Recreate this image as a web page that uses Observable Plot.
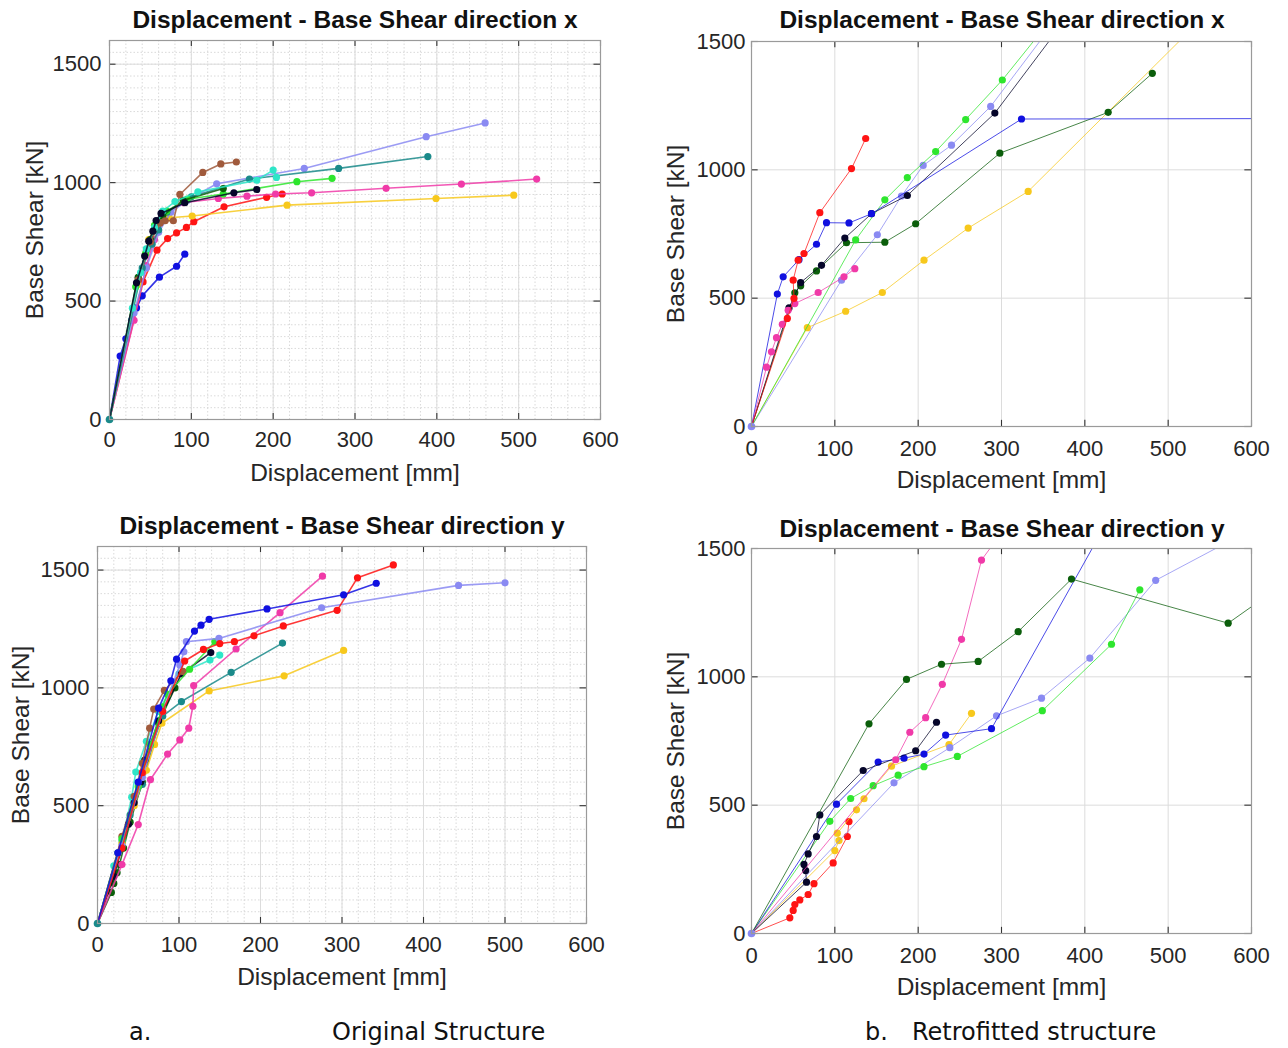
<!DOCTYPE html>
<html>
<head>
<meta charset="utf-8">
<script src="https://cdn.jsdelivr.net/npm/d3@7"></script>
<script src="https://cdn.jsdelivr.net/npm/@observablehq/plot@0.6"></script>
<style>
  html, body { margin: 0; padding: 0; background: #fff; }
  #root { position: relative; width: 1288px; height: 1048px; overflow: hidden; font-family: "Liberation Sans", Arial, sans-serif; }
  .panel { position: absolute; }
  .title { position: absolute; font-weight: bold; font-size: 24.5px; color: #111; white-space: nowrap; transform: translateX(-50%); }
  .cap { position: absolute; font-family: "DejaVu Sans", Verdana, sans-serif; font-size: 24px; color: #111; white-space: nowrap; }
</style>
</head>
<body>
<div id="root"></div>
<script>
// ---------- tick labels ----------
const xTicks = [0, 100, 200, 300, 400, 500, 600];
const yTicks = [0, 500, 1000, 1500];
const xMinor = d3.range(0, 601, 20);
const yMinor = d3.range(0, 1601, 50);

// ---------- colours ----------
const colors = {
  red: "#ff1414", blue: "#1010e0", black: "#06062a", dgreen: "#0b5e0b",
  green: "#2ee62e", magenta: "#f03aa8", lavender: "#8a8af2", yellow: "#f7c81c",
  teal: "#1a8a8a", cyan: "#2ee6c8", brown: "#a05a3c"
};

// ---------- (a) original, direction x : [displacement mm, base shear kN] ----------
const aX_blue = [[0,0],[13,268],[20,341],[27,419],[33,471],[40,522],[61,601],[82,647],[92,698]];
const aX_red = [[0,0],[41,581],[58,715],[71,764],[82,788],[94,811],[103,835],[140,898],[192,938],[211,952]];
const aX_magenta = [[0,0],[30,419],[45,650],[55,760],[70,870],[90,915],[133,933],[168,943],[203,952],[247,957],[338,976],[430,994],[522,1015]];
const aX_yellow = [[0,0],[35,570],[48,760],[58,830],[73,852],[101,859],[217,905],[399,933],[494,947]];
const aX_lavender = [[0,0],[30,450],[45,640],[60,790],[75,875],[95,925],[131,995],[238,1060],[387,1194],[459,1252]];
const aX_teal = [[0,0],[40,640],[52,740],[60,800],[70,875],[100,940],[171,1015],[280,1060],[389,1110]];
const aX_green = [[0,0],[32,560],[44,700],[55,820],[70,880],[95,930],[139,952],[229,1004],[272,1018]];
const aX_dgreen = [[0,0],[35,600],[50,760],[65,860],[90,925],[139,975]];
const aX_brown = [[0,0],[35,590],[50,750],[62,830],[68,839],[78,839],[86,950],[114,1043],[136,1079],[155,1087]];
const aX_cyan = [[0,0],[28,470],[38,620],[45,720],[55,810],[65,880],[80,920],[108,961],[180,1010],[200,1053],[204,1022]];
const aX_black = [[0,0],[33,577],[43,690],[48,753],[53,795],[57,840],[63,870],[92,915],[152,957],[180,971]];

// ---------- (a) original, direction y ----------
const aY_dgreen = [[0,0],[17,132],[20,170],[24,215],[27,250],[32,320],[40,430],[55,600],[75,850],[95,1000]];
const aY_cyan = [[0,0],[20,245],[30,350],[42,536],[47,643],[60,773],[75,900],[100,1060],[138,1118],[150,1139]];
const aY_teal = [[0,0],[25,300],[40,460],[55,590],[67,759],[80,880],[103,942],[164,1066],[227,1190]];
const aY_yellow = [[0,0],[30,340],[45,500],[60,650],[70,760],[79,850],[137,987],[229,1051],[302,1159]];
const aY_black = [[0,0],[20,200],[38,421],[45,512],[53,601],[58,693],[75,860],[103,1060],[139,1150]];
const aY_brown = [[0,0],[30,370],[45,540],[55,680],[64,829],[69,910],[82,989],[105,1070]];
const aY_green = [[0,0],[30,360],[50,580],[65,760],[80,920],[86,973],[113,1079],[144,1196]];
const aY_magenta = [[0,0],[30,250],[50,420],[65,611],[86,719],[101,779],[112,829],[117,922],[118,1010],[170,1165],[224,1319],[276,1474]];
const aY_lavender = [[0,0],[30,330],[55,620],[80,900],[101,1097],[106,1153],[109,1196],[149,1210],[275,1340],[443,1435],[500,1446]];
const aY_red = [[0,0],[30,320],[55,640],[80,900],[107,1114],[130,1163],[150,1188],[168,1196],[192,1221],[228,1263],[294,1329],[319,1467],[363,1522]];
const aY_blue = [[0,0],[25,300],[50,600],[75,914],[90,1030],[97,1122],[119,1241],[127,1266],[137,1291],[208,1335],[302,1395],[342,1444]];

// ---------- (b) retrofitted, direction x ----------
const bX_yellow = [[0,0],[67,385],[113,449],[157,522],[207,648],[260,773],[332,916],[544,1600]];
const bX_dgreen = [[0,0],[52,521],[59,548],[78,606],[114,716],[160,718],[197,790],[298,1065],[428,1224],[481,1376]];
const bX_lavender = [[0,0],[108,570],[151,747],[180,898],[206,1017],[240,1096],[287,1247],[369,1600]];
const bX_green = [[0,0],[125,727],[160,883],[187,970],[221,1071],[257,1196],[301,1350],[363,1600]];
const bX_black = [[0,0],[45,462],[59,561],[84,628],[112,734],[144,829],[187,900],[292,1221],[380,1600]];
const bX_blue = [[0,0],[31,516],[38,583],[57,650],[78,710],[90,794],[117,793],[144,829],[324,1198],[700,1200]];
const bX_magenta = [[0,0],[18,231],[24,291],[30,346],[37,398],[44,453],[52,479],[80,522],[111,583],[124,615]];
const bX_red = [[0,0],[43,421],[51,499],[50,570],[56,648],[63,674],[82,833],[120,1005],[137,1122]];

// ---------- (b) retrofitted, direction y ----------
const bY_red = [[0,0],[46,61],[50,90],[52,113],[58,131],[68,152],[75,194],[98,275],[115,378],[117,436]];
const bY_yellow = [[0,0],[100,323],[105,362],[103,391],[126,482],[135,525],[168,652],[237,736],[264,858]];
const bY_lavender = [[0,0],[171,587],[238,724],[294,848],[348,917],[406,1073],[485,1376],[615,1600]];
const bY_green = [[0,0],[94,437],[119,526],[146,576],[176,617],[207,650],[247,690],[349,868],[432,1127],[466,1339]];
const bY_blue = [[0,0],[102,504],[152,668],[183,683],[207,699],[233,773],[288,798],[426,1600]];
const bY_black = [[0,0],[66,200],[65,245],[63,269],[68,310],[78,378],[82,462],[134,635],[197,712],[222,823]];
const bY_magenta = [[0,0],[173,677],[190,784],[209,841],[229,971],[252,1146],[276,1455],[320,1650]];
const bY_dgreen = [[0,0],[141,817],[186,990],[228,1049],[272,1060],[320,1176],[384,1381],[572,1209],[640,1365]];

// ---------- build tables ----------
function table(list) {
  const out = [];
  for (const [name, pts] of list) pts.forEach(([x, y], i) => out.push({s: name, x, y, i}));
  return out;
}
const panelAX = table([["blue",aX_blue],["red",aX_red],["magenta",aX_magenta],["yellow",aX_yellow],["lavender",aX_lavender],["teal",aX_teal],["green",aX_green],["dgreen",aX_dgreen],["brown",aX_brown],["cyan",aX_cyan],["black",aX_black]]);
const panelAY = table([["dgreen",aY_dgreen],["cyan",aY_cyan],["teal",aY_teal],["yellow",aY_yellow],["black",aY_black],["brown",aY_brown],["green",aY_green],["magenta",aY_magenta],["lavender",aY_lavender],["red",aY_red],["blue",aY_blue]]);
const panelBX = table([["yellow",bX_yellow],["dgreen",bX_dgreen],["lavender",bX_lavender],["green",bX_green],["black",bX_black],["blue",bX_blue],["magenta",bX_magenta],["red",bX_red]]);
const panelBY = table([["red",bY_red],["yellow",bY_yellow],["lavender",bY_lavender],["green",bY_green],["blue",bY_blue],["black",bY_black],["magenta",bY_magenta],["dgreen",bY_dgreen]]);

function makePlot(rows, o) {
  const names = [...new Set(rows.map(d => d.s))];
  const marks = [];
  if (o.minor) {
    marks.push(Plot.ruleX(xMinor, {x: d => d, stroke: "#d0d0d0", strokeDasharray: "1.5,2", strokeWidth: 0.8}));
    marks.push(Plot.ruleY(yMinor.filter(v => v <= o.ymax), {y: d => d, stroke: "#d0d0d0", strokeDasharray: "1.5,2", strokeWidth: 0.8}));
  }
  marks.push(Plot.ruleX(xTicks, {x: d => d, stroke: "#dcdcdc"}));
  marks.push(Plot.ruleY(yTicks, {y: d => d, stroke: "#dcdcdc"}));
  for (const n of names) {
    const d = rows.filter(r => r.s === n);
    marks.push(Plot.line(d, {x: "x", y: "y", stroke: colors[n], strokeWidth: o.lw, strokeOpacity: o.lo, clip: true}));
    marks.push(Plot.dot(d.filter(r => r.i > 0), {x: "x", y: "y", r: 3.6, fill: colors[n], stroke: "none", clip: true}));
  }
  // origin marker (common starting point of all curves)
  marks.push(Plot.dot(rows.filter(r => r.i === 0 && r.s === names[0]), {x: "x", y: "y", r: 3.8, fill: o.origin, stroke: "none"}));
  // inward tick marks (MATLAB style)
  const ty = o.ymax * 0.016, tx = 8;
  marks.push(Plot.ruleX(xTicks, {x: d => d, y1: 0, y2: ty, stroke: "#333", strokeWidth: 1.1}));
  marks.push(Plot.ruleX(xTicks, {x: d => d, y1: o.ymax - ty, y2: o.ymax, stroke: "#333", strokeWidth: 1.1}));
  marks.push(Plot.ruleY(yTicks, {y: d => d, x1: 0, x2: tx, stroke: "#333", strokeWidth: 1.1}));
  marks.push(Plot.ruleY(yTicks, {y: d => d, x1: 600 - tx, x2: 600, stroke: "#333", strokeWidth: 1.1}));
  marks.push(Plot.frame({stroke: "#9a9a9a", strokeWidth: 1.2}));
  marks.push(Plot.axisX(xTicks, {tickSize: 0, tickPadding: o.xpad, fontSize: 22, fill: "#262626", tickFormat: d => String(d), label: "Displacement [mm]", labelAnchor: "center", labelOffset: o.xlab, labelArrow: "none"}));
  marks.push(Plot.axisY(yTicks, {tickSize: 0, tickPadding: o.ypad, fontSize: 22, fill: "#262626", tickFormat: d => String(d), label: "Base Shear [kN]", labelAnchor: "center", labelOffset: o.ylab, labelArrow: "none"}));
  const svg = Plot.plot({
    width: o.w, height: o.h,
    marginLeft: o.ml, marginRight: o.mr, marginTop: o.mt, marginBottom: o.mb,
    style: {fontFamily: "'Liberation Sans', Arial, sans-serif", fontSize: "22px", color: "#262626", background: "transparent", overflow: "visible"},
    x: {domain: [0, 600]},
    y: {domain: [0, o.ymax]},
    marks
  });
  svg.querySelectorAll('g[aria-label="x-axis label"], g[aria-label="y-axis label"]').forEach(g => {
    g.setAttribute("font-size", "24.5");
    g.querySelectorAll("text").forEach(t => t.setAttribute("font-size", "24.5"));
  });
  return svg;
}

const root = document.getElementById("root");
function place(el, left, top) { el.classList.add("panel"); el.style.left = left + "px"; el.style.top = top + "px"; root.appendChild(el); }
function text(cls, str, left, top) { const d = document.createElement("div"); d.className = cls; d.textContent = str; d.style.left = left + "px"; d.style.top = top + "px"; root.appendChild(d); }

place(makePlot(panelAX, {w: 640, h: 500, ml: 109, mr: 40, mt: 40, mb: 81, ymax: 1600, minor: true, lw: 1.6, lo: 0.85, xpad: 12, ypad: 8, xlab: 61, ylab: 84, origin: colors.teal}), 0, 0);
place(makePlot(panelBX, {w: 648, h: 500, ml: 111, mr: 37, mt: 41, mb: 74, ymax: 1500, minor: false, lw: 1, lo: 0.75, xpad: 14, ypad: 6, xlab: 61, ylab: 85, origin: colors.lavender}), 640, 0);
place(makePlot(panelAY, {w: 640, h: 500, ml: 97, mr: 54, mt: 46, mb: 77, ymax: 1600, minor: true, lw: 1.6, lo: 0.85, xpad: 13, ypad: 8, xlab: 61, ylab: 86, origin: colors.teal}), 0, 500);
place(makePlot(panelBY, {w: 648, h: 500, ml: 111, mr: 37, mt: 48, mb: 67, ymax: 1500, minor: false, lw: 1, lo: 0.75, xpad: 14, ypad: 6, xlab: 61, ylab: 85, origin: colors.lavender}), 640, 500);

text("title", "Displacement - Base Shear direction x", 355, 6);
text("title", "Displacement - Base Shear direction x", 1002, 6);
text("title", "Displacement - Base Shear direction y", 342, 512);
text("title", "Displacement - Base Shear direction y", 1002, 515);
text("cap", "a.", 129, 1018);
text("cap", "Original Structure", 332, 1018);
text("cap", "b.", 865, 1018);
text("cap", "Retrofitted structure", 912, 1018);
</script>
</body>
</html>
